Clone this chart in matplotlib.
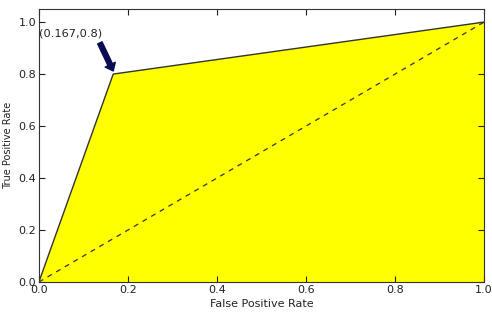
import matplotlib
matplotlib.use("Agg")
import matplotlib.pyplot as plt

# ROC points
fpr = [0.0, 0.167, 1.0]
tpr = [0.0, 0.8, 1.0]
chance = [0.0, 1.0]

fig = plt.figure(figsize=(4.92, 3.13), dpi=100)
ax = fig.add_axes([0.079, 0.099, 0.905, 0.872])

ax.fill_between(fpr, tpr, 0, color="yellow", zorder=1)
ax.plot(fpr, tpr, color="#333333", lw=1.0, zorder=2)
ax.plot(chance, chance, color="#333333", lw=0.9, ls="--", dashes=(4, 4), zorder=2)

ax.text(0.0, 0.955, "(0.167,0.8)", fontsize=8.2, color="#222222", va="center")
ax.annotate("", xy=(fpr[1], tpr[1] + 0.012), xytext=(0.137, 0.92),
            arrowprops=dict(facecolor="#0b0b55", edgecolor="#0b0b55",
                            width=3.5, headwidth=8, headlength=5, shrink=0.0))

ax.set_xlim(0, 1.0)
ax.set_ylim(0, 1.05)
ax.set_xticks([0.0, 0.2, 0.4, 0.6, 0.8, 1.0])
ax.set_yticks([0.0, 0.2, 0.4, 0.6, 0.8, 1.0])
ax.tick_params(direction="in", labelsize=8, colors="#222222", length=4, top=True, right=True, pad=2)
for s in ax.spines.values():
    s.set_color("#333333")
ax.set_xlabel("False Positive Rate", fontsize=8, color="#222222", labelpad=3)
ax.set_ylabel("True Positive Rate", fontsize=7, color="#222222", labelpad=4)

fig.savefig("out.png", dpi=100)
